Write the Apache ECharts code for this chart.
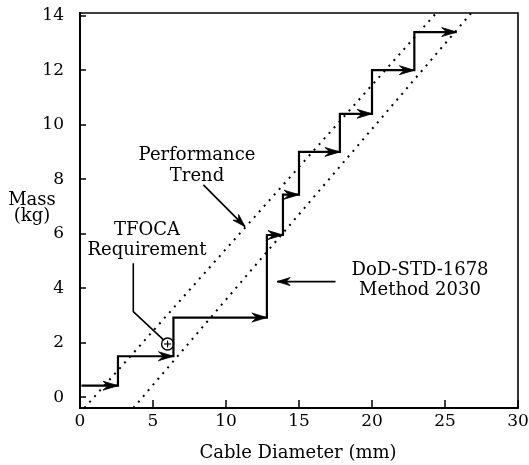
<!DOCTYPE html>
<html>
<head>
<meta charset="utf-8">
<script src="https://cdn.jsdelivr.net/npm/echarts@6/dist/echarts.min.js"></script>
<style>
html,body{margin:0;padding:0;background:#fff;}
#chart{width:529px;height:465px;}
</style>
</head>
<body>
<div id="chart"></div>
<script>
// ---- data ----
const xTicks = [0, 5, 10, 15, 20, 25, 30];
const yTicks = [0, 2, 4, 6, 8, 10, 12, 14];

// DoD-STD-1678 Method 2030 staircase
const stairX = [0.1, 2.6, 2.6, 6.4, 6.4, 12.8, 12.8, 13.9, 13.9, 15.0, 15.0, 17.8, 17.8, 20.0, 20.0, 22.9, 22.9, 25.8];
const stairY = [0.42, 0.42, 1.5, 1.5, 2.92, 2.92, 5.95, 5.95, 7.43, 7.43, 9.0, 9.0, 10.4, 10.4, 12.0, 12.0, 13.4, 13.4];

// dotted trend bands
const perfTrendX = [0.3, 24.4];
const perfTrendY = [-0.4, 14.1];
const lowerTrendX = [3.65, 26.8];
const lowerTrendY = [-0.4, 14.1];

// TFOCA requirement point
const tfocaX = [6.0];
const tfocaY = [1.95];

// annotation leaders
const perfArrowX = [8.45, 11.3];
const perfArrowY = [7.79, 6.26];
const dodArrowX = [17.5, 13.5];
const dodArrowY = [4.24, 4.24];
const tfocaLeaderX = [3.65, 3.65, 5.74];
const tfocaLeaderY = [4.91, 3.14, 2.09];

// ---- build ----
const zip = (xs, ys) => xs.map((x, i) => [x, ys[i]]);

// arrowheads at the end of each horizontal stair run
const stairHeads = [];
for (let i = 0; i + 1 < stairX.length; i++) {
  if (stairY[i] === stairY[i + 1] && stairX[i + 1] > stairX[i]) {
    stairHeads.push([stairX[i], stairY[i], stairX[i + 1], stairY[i + 1]]);
  }
}
const annotArrows = [
  [perfArrowX[0], perfArrowY[0], perfArrowX[1], perfArrowY[1]],
  [dodArrowX[0], dodArrowY[0], dodArrowX[1], dodArrowY[1]]
];

function headPoints(p1, p2, L, W, N) {
  const ang = Math.atan2(p2[1] - p1[1], p2[0] - p1[0]);
  const c = Math.cos(ang), s = Math.sin(ang);
  const pt = (dx, dy) => [p2[0] + dx * c - dy * s, p2[1] + dx * s + dy * c];
  return [pt(0, 0), pt(-L, -W), pt(-N, 0), pt(-L, W)];
}

function makeArrowRender(drawLine, L, W, N, lw) {
  return function (params, api) {
    const p1 = api.coord([api.value(0), api.value(1)]);
    const p2 = api.coord([api.value(2), api.value(3)]);
    const children = [];
    if (drawLine) {
      children.push({
        type: 'line',
        shape: { x1: p1[0], y1: p1[1], x2: p2[0], y2: p2[1] },
        style: { stroke: '#000', lineWidth: lw }
      });
    }
    children.push({
      type: 'polygon',
      shape: { points: headPoints(p1, p2, L, W, N) },
      style: { fill: '#000', stroke: '#000', lineWidth: 0.8 }
    });
    return { type: 'group', children: children };
  };
}

const FONT = '"DejaVu Serif", "Liberation Serif", serif';

const chart = echarts.init(document.getElementById('chart'), null, { renderer: 'canvas' });

const option = {
  backgroundColor: '#fff',
  animation: false,
  textStyle: { fontFamily: FONT, color: '#000' },
  grid: {
    left: 80, right: 11, top: 13, bottom: 57,
    containLabel: false,
    outerBoundsMode: 'none',
    show: true,
    borderColor: '#000',
    borderWidth: 1.6,
    backgroundColor: 'transparent'
  },
  xAxis: {
    type: 'value',
    min: 0, max: 30, interval: 5,
    splitLine: { show: false },
    axisLine: { show: true, onZero: false, lineStyle: { color: '#000', width: 2 } },
    axisTick: { show: true, inside: true, length: 8, lineStyle: { color: '#000', width: 1.5 } },
    axisLabel: {
      margin: 5, fontSize: 17, fontFamily: FONT, color: '#000',
      customValues: xTicks,
      formatter: v => String(v)
    }
  },
  yAxis: {
    type: 'value',
    min: -0.4, max: 14.1,
    splitLine: { show: false },
    axisLine: { show: true, onZero: false, lineStyle: { color: '#000', width: 2 } },
    axisTick: { show: true, inside: true, length: 6, customValues: yTicks, lineStyle: { color: '#000', width: 1.5 } },
    axisLabel: {
      margin: 16, fontSize: 17, fontFamily: FONT, color: '#000',
      customValues: yTicks,
      formatter: v => String(v)
    }
  },
  series: [
    {
      name: 'Performance Trend',
      type: 'line',
      data: zip(perfTrendX, perfTrendY),
      showSymbol: false, symbol: 'none',
      lineStyle: { color: '#000', width: 2, type: [2, 5.5] },
      silent: true
    },
    {
      name: 'Lower band',
      type: 'line',
      data: zip(lowerTrendX, lowerTrendY),
      showSymbol: false, symbol: 'none',
      lineStyle: { color: '#000', width: 2, type: [2, 5.5] },
      silent: true
    },
    {
      name: 'DoD-STD-1678 Method 2030',
      type: 'line',
      data: zip(stairX, stairY),
      showSymbol: false, symbol: 'none',
      lineStyle: { color: '#000', width: 2.2, join: 'miter' },
      silent: true
    },
    {
      name: 'stair heads',
      type: 'custom',
      data: stairHeads,
      renderItem: makeArrowRender(false, 15, 4.5, 10, 2),
      silent: true,
      clip: false
    },
    {
      name: 'annotation arrows',
      type: 'custom',
      data: annotArrows,
      renderItem: makeArrowRender(true, 13, 4, 9, 1.6),
      silent: true,
      clip: false
    },
    {
      name: 'TFOCA leader',
      type: 'line',
      data: zip(tfocaLeaderX, tfocaLeaderY),
      showSymbol: false, symbol: 'none',
      lineStyle: { color: '#000', width: 1.6 },
      silent: true
    },
    {
      name: 'TFOCA Requirement',
      type: 'custom',
      data: zip(tfocaX, tfocaY),
      renderItem: function (params, api) {
        const p = api.coord([api.value(0), api.value(1)]);
        const r = 6, a = 3.5;
        return {
          type: 'group',
          children: [
            { type: 'circle', shape: { cx: p[0], cy: p[1], r: r }, style: { fill: 'none', stroke: '#000', lineWidth: 1.4 } },
            { type: 'line', shape: { x1: p[0] - a, y1: p[1], x2: p[0] + a, y2: p[1] }, style: { stroke: '#000', lineWidth: 1.2 } },
            { type: 'line', shape: { x1: p[0], y1: p[1] - a, x2: p[0], y2: p[1] + a }, style: { stroke: '#000', lineWidth: 1.2 } }
          ]
        };
      },
      silent: true,
      clip: false
    }
  ],
  graphic: [
    { type: 'text', x: 298, y: 453, style: { text: 'Cable Diameter (mm)', font: '18px ' + FONT, fill: '#000', align: 'center', verticalAlign: 'middle' } },
    { type: 'text', x: 32, y: 208, style: { text: 'Mass\n(kg)', font: '18px ' + FONT, fill: '#000', align: 'center', verticalAlign: 'middle', lineHeight: 16 } },
    { type: 'text', x: 197, y: 166, style: { text: 'Performance\nTrend', font: '18px ' + FONT, fill: '#000', align: 'center', verticalAlign: 'middle', lineHeight: 21 } },
    { type: 'text', x: 147, y: 240, style: { text: 'TFOCA\nRequirement', font: '18px ' + FONT, fill: '#000', align: 'center', verticalAlign: 'middle', lineHeight: 20 } },
    { type: 'text', x: 420, y: 280, style: { text: 'DoD-STD-1678\nMethod 2030', font: '18px ' + FONT, fill: '#000', align: 'center', verticalAlign: 'middle', lineHeight: 20 } }
  ]
};

chart.setOption(option);
</script>
</body>
</html>
